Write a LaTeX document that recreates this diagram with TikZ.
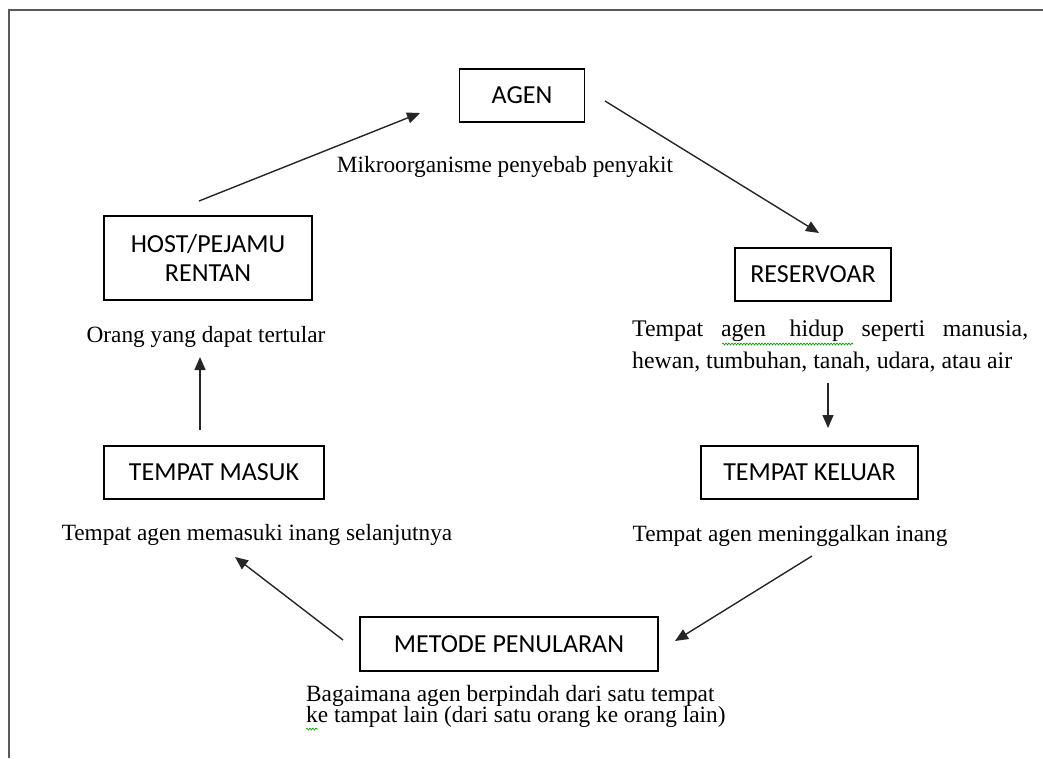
\documentclass[tikz,border=0pt]{standalone}
\usepackage{fontspec}
\setmainfont{Liberation Serif}
\newfontfamily\boxfont{Carlito}
\usetikzlibrary{arrows.meta,decorations.pathmorphing}
\begin{document}
\begin{tikzpicture}[x=1pt,y=-1pt,
  box/.style={draw=black,line width=1.2pt,inner sep=0pt,align=center,
    font=\boxfont\fontsize{26}{30}\selectfont},
  lbl/.style={inner sep=0pt,font=\fontsize{23.3}{28}\selectfont},
  arr/.style={draw=black!85,line width=1.4pt,-{Triangle[length=13pt,width=11pt]}},
  wavy/.style={draw=green!60!black,line width=0.6pt,decorate,
    decoration={snake,amplitude=1pt,segment length=3pt}}]
\useasboundingbox (0,0) rectangle (1043,758);
\fill[white] (0,0) rectangle (1043,758);
% page frame
\draw[black!65,line width=2pt] (9,758) -- (9,10) -- (1043,10);
% boxes
\node[box,minimum width=125pt,minimum height=53pt] (agen) at (522,95.5) {AGEN};
\node[box,minimum width=208pt,minimum height=84pt,font=\boxfont\fontsize{26}{29}\selectfont] (host) at (208,258) {HOST/PEJAMU\\RENTAN};
\node[box,minimum width=156pt,minimum height=53pt] (res) at (813,274.5) {RESERVOAR};
\node[box,minimum width=217pt,minimum height=53pt] (keluar) at (809.5,472.5) {TEMPAT KELUAR};
\node[box,minimum width=220pt,minimum height=53pt] (masuk) at (214,472.5) {TEMPAT MASUK};
\node[box,minimum width=298pt,minimum height=54pt] (metode) at (509,644) {METODE PENULARAN};
% labels
\node[lbl] (agenL) at (505,167) {Mikroorganisme penyebab penyakit};
\node[lbl] (hostL) at (206,337) {Orang yang dapat tertular};
\node[lbl,anchor=north west,text width=396pt,align=justify,
  font=\fontsize{23.8}{32}\selectfont] (resL) at (632,320)
  {Tempat agen\hspace{6pt} hidup seperti manusia,\linebreak hewan, tumbuhan, tanah, udara, atau air};
\node[lbl] (keluarL) at (790,536) {Tempat agen meninggalkan inang};
\node[lbl] (masukL) at (257,535) {Tempat agen memasuki inang selanjutnya};
\node[lbl,anchor=north west,align=left,font=\fontsize{23.3}{21.5}\selectfont] (metodeL) at (306,685)
  {Bagaimana agen berpindah dari satu tempat\\ke tampat lain (dari satu orang ke orang lain)};
% spell-check underlines
\draw[wavy] (722,344) -- (853,344);
\draw[wavy] (306,729) -- (318,729);
% connector end points
\coordinate (hostOut) at (199,201);
\coordinate (agenIn) at (420,113);
\coordinate (agenOut) at (605,101);
\coordinate (resIn) at (819,233);
\coordinate (resOut) at (828,383);
\coordinate (keluarIn) at (828,428);
\coordinate (keluarOut) at (812,556);
\coordinate (metodeIn) at (675,641);
\coordinate (metodeOut) at (343,640);
\coordinate (masukIn) at (235,557);
\coordinate (masukOut) at (200,430);
\coordinate (hostIn) at (200,357);
% connectors
\draw[arr] (hostOut) -- (agenIn);
\draw[arr] (agenOut) -- (resIn);
\draw[arr] (resOut) -- (keluarIn);
\draw[arr] (keluarOut) -- (metodeIn);
\draw[arr] (metodeOut) -- (masukIn);
\draw[arr] (masukOut) -- (hostIn);
\end{tikzpicture}
\end{document}
